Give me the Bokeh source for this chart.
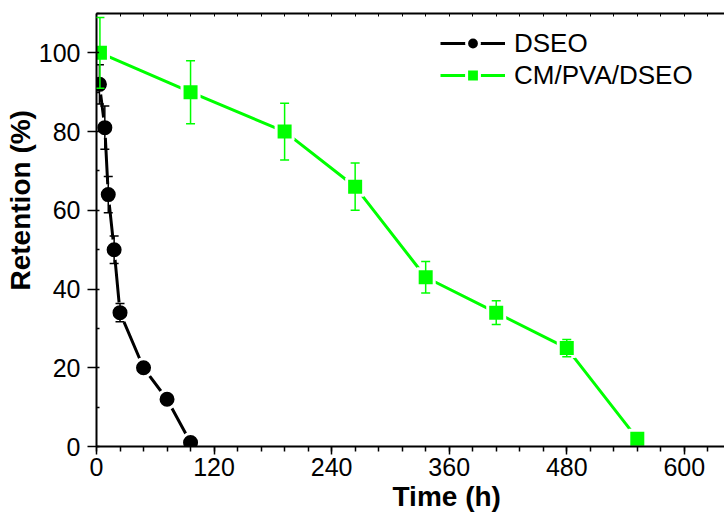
from bokeh.plotting import figure
from bokeh.models import (Range1d, LinearAxis, FixedTicker, Legend, LegendItem,
                          Whisker, TeeHead, ColumnDataSource, Title)
from bokeh.embed import file_html
from bokeh.resources import INLINE

# ---- data ----
time_dseo = [3, 8.5, 12, 18, 24, 48, 72, 96]
ret_dseo = [92, 81, 64, 50, 34, 20, 12, 1]
err_dseo = [5, 5.5, 4.6, 3.5, 2.3, 1, 1, 0.5]

time_cm = [3.5, 96, 192, 264, 336, 408, 480, 552]
ret_cm = [100, 90, 80, 66, 43, 34, 25, 2]
err_cm = [9, 8, 7.2, 6, 4, 3, 2.2, 1]

x_ticks = [0, 120, 240, 360, 480, 600]
y_ticks = [0, 20, 40, 60, 80, 100]
x_minor = list(range(0, 648, 24))
y_minor = list(range(0, 111, 10))

FONT = "Liberation Sans"
GREEN = "#00ff00"

p = figure(width=724, height=516, x_range=Range1d(0, 641), y_range=Range1d(0, 110),
           output_backend="svg", toolbar_location=None,
           min_border_left=96, min_border_right=0, min_border_top=13, min_border_bottom=70)
p.outline_line_color = None
p.xgrid.visible = False
p.ygrid.visible = False
p.background_fill_color = "white"
p.border_fill_color = "white"

src_d = ColumnDataSource(dict(x=time_dseo, y=ret_dseo,
                              upper=[a + b for a, b in zip(ret_dseo, err_dseo)],
                              lower=[a - b for a, b in zip(ret_dseo, err_dseo)]))
src_c = ColumnDataSource(dict(x=time_cm, y=ret_cm,
                              upper=[a + b for a, b in zip(ret_cm, err_cm)],
                              lower=[a - b for a, b in zip(ret_cm, err_cm)]))

l1 = p.line("x", "y", source=src_d, line_color="black", line_width=3)
s1 = p.scatter("x", "y", source=src_d, marker="circle", size=18, fill_color="black",
               line_color="white", line_width=3)
l2 = p.line("x", "y", source=src_c, line_color=GREEN, line_width=3)
s2 = p.scatter("x", "y", source=src_c, marker="square", size=17, fill_color=GREEN,
               line_color="white", line_width=3)

for src, col in ((src_d, "black"), (src_c, GREEN)):
    w = Whisker(source=src, base="x", upper="upper", lower="lower",
                line_color=col, line_width=1.5, level="overlay",
                upper_head=TeeHead(size=9, line_color=col, line_width=1.5),
                lower_head=TeeHead(size=9, line_color=col, line_width=1.5))
    p.add_layout(w)

# bottom axis
xa = p.xaxis[0]
xa.ticker = FixedTicker(ticks=x_ticks, minor_ticks=x_minor)
xa.axis_line_width = 2
xa.major_tick_line_width = 1.5
xa.minor_tick_line_width = 1.5
xa.major_tick_out = 8
xa.major_tick_in = 0
xa.minor_tick_out = 5
xa.minor_tick_in = 0
xa.major_label_standoff = 3
xa.major_label_text_font = FONT
xa.major_label_text_font_size = "25px"
xa.major_label_text_color = "black"

# left axis
ya = p.yaxis[0]
ya.ticker = FixedTicker(ticks=y_ticks, minor_ticks=y_minor)
ya.axis_line_width = 2
ya.major_tick_line_width = 1.5
ya.minor_tick_line_width = 1.5
ya.major_tick_out = 9
ya.major_tick_in = 0
ya.minor_tick_out = 0
ya.minor_tick_in = 3
ya.major_label_standoff = 7
ya.major_label_text_font = FONT
ya.major_label_text_font_size = "25px"
ya.major_label_text_color = "black"

# top axis (frame line with small inside ticks, no labels)
ta = LinearAxis(ticker=FixedTicker(ticks=x_minor, minor_ticks=[]),
                major_label_overrides={t: "" for t in x_minor},
                major_label_text_font_size="1px", major_label_standoff=0,
                major_tick_in=3, major_tick_out=0, major_tick_line_width=1,
                axis_line_width=2)
p.add_layout(ta, "above")

# axis titles
p.add_layout(Title(text="Time (h)", align="left", offset=296, standoff=0,
                   text_font=FONT, text_font_style="bold", text_font_size="28px",
                   text_color="black"), "below")
p.add_layout(Title(text="Retention (%)", align="left", offset=156, standoff=0,
                   text_font=FONT, text_font_style="bold", text_font_size="28px",
                   text_color="black"), "left")

legend = Legend(items=[LegendItem(label="DSEO", renderers=[l1, s1]),
                       LegendItem(label="CM/PVA/DSEO", renderers=[l2, s2])],
                location=(344, 355), glyph_width=65, glyph_height=32, label_height=32,
                spacing=0, padding=0, margin=0, label_standoff=9,
                border_line_color=None, background_fill_alpha=0,
                label_text_font=FONT, label_text_font_size="26px", label_text_color="black")
p.add_layout(legend)

open("out.html", "w").write(file_html(p, INLINE))
